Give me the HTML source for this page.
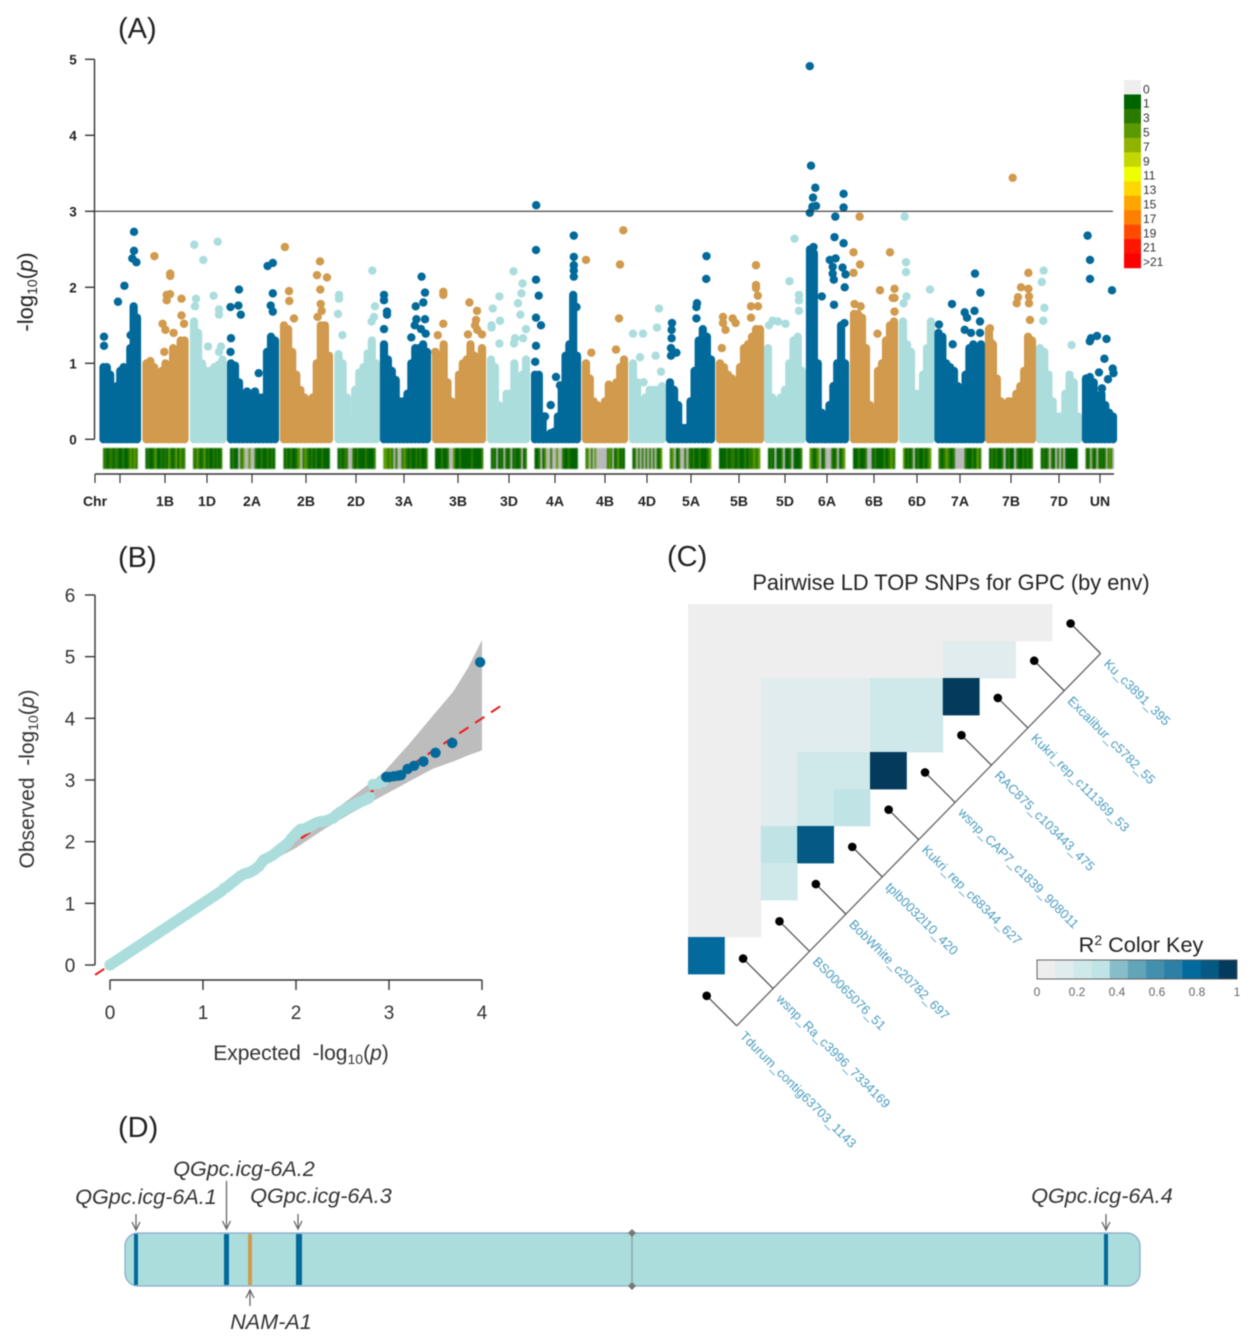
<!DOCTYPE html>
<html lang="en">
<head>
<meta charset="utf-8">
<title>GWAS of grain protein content</title>
<style>
html,body{margin:0;padding:0;background:#fff;}
svg{display:block;font-family:"Liberation Sans",Arial,sans-serif;filter:blur(.45px);}
</style>
</head>
<body>
<svg id="fig" xmlns="http://www.w3.org/2000/svg" width="1255" height="1344" viewBox="0 0 1255 1344">
  <rect width="1255" height="1344" fill="#fff"/>
  <g id="panelA">
    <g id="aCols"></g>
    <g id="aHits"></g>
    <g id="aDensity" style="filter:blur(.5px)"></g>
    <g id="aAxes"></g>
    <g id="aLegend"></g>
  </g>
  <g id="panelB"></g>
  <g id="panelC"></g>
  <g id="panelD"></g>

  <text x="118" y="38" font-size="29" fill="#222">(A)</text>
  <text x="118" y="567" font-size="29" fill="#222">(B)</text>
  <text x="667" y="566" font-size="29" fill="#222">(C)</text>
  <text x="118" y="1137" font-size="29" fill="#222">(D)</text>

  <text transform="translate(33,292) rotate(-90)" text-anchor="middle" font-size="22" fill="#222">-log<tspan dy="4" font-size="14">10</tspan><tspan dy="-4">(</tspan><tspan font-style="italic">p</tspan>)</text>
  <text transform="translate(34,779) rotate(-90)" text-anchor="middle" font-size="21" fill="#333" xml:space="preserve">Observed  -log<tspan dy="4" font-size="14">10</tspan><tspan dy="-4">(</tspan><tspan font-style="italic">p</tspan>)</text>
  <text x="301" y="1060" text-anchor="middle" font-size="21" fill="#333" xml:space="preserve">Expected  -log<tspan dy="4" font-size="14">10</tspan><tspan dy="-4">(</tspan><tspan font-style="italic">p</tspan>)</text>
  <text x="951" y="590" text-anchor="middle" font-size="21.8" fill="#222">Pairwise LD TOP SNPs for GPC (by env)</text>
  <text x="1141" y="952" text-anchor="middle" font-size="21.7" fill="#222">R<tspan dy="-7" font-size="14">2</tspan><tspan dy="7"> Color Key</tspan></text>

  <text x="146" y="1204" text-anchor="middle" font-size="21.6" font-style="italic" fill="#333">QGpc.icg-6A.1</text>
  <text x="244" y="1176" text-anchor="middle" font-size="21.6" font-style="italic" fill="#333">QGpc.icg-6A.2</text>
  <text x="321" y="1203" text-anchor="middle" font-size="21.6" font-style="italic" fill="#333">QGpc.icg-6A.3</text>
  <text x="1102" y="1203" text-anchor="middle" font-size="21.6" font-style="italic" fill="#333">QGpc.icg-6A.4</text>
  <text x="271" y="1329" text-anchor="middle" font-size="21.6" font-style="italic" fill="#333">NAM-A1</text>
</svg>

<script>
/* ---------- Panel A data ---------- */
const chromosomes = ['1A','1B','1D','2A','2B','2D','3A','3B','3D','4A','4B','4D','5A','5B','5D','6A','6B','6D','7A','7B','7D','UN'];
const chromStartMb = [85,515,990,1360,1890,2435,2890,3410,3960,4400,4910,5380,5750,6250,6730,7150,7590,8080,8435,8940,9450,9910];
const chromEndMb = [420,895,1275,1800,2340,2810,3320,3870,4310,4820,5290,5670,6160,6650,7070,7500,7990,8360,8860,9370,9830,10180];
const seriesColors = ['#026a9b','#d19a4d','#abdddd'];
const thresholdValue = 3;
const manhattanYTicks = [0,1,2,3,4,5];
const manhattanXTickMb = [0,250,700,1120,1570,2110,2610,3090,3630,4140,4600,5100,5520,5960,6440,6900,7320,7790,8220,8650,9160,9640,10050];
const manhattanXTickLabels = ['Chr','','1B','1D','2A','2B','2D','3A','3B','3D','4A','4B','4D','5A','5B','5D','6A','6B','6D','7A','7B','7D','UN'];

/* highest -log10(p) of the solid SNP stack in successive windows of each chromosome */
const stackTops = [
 [.95,.95,.85,.6,.7,.9,.95,.68,1.2,1.75,1.6],
 [1.0,1.03,.95,.85,.9,1.0,.95,1.2,1.1,1.3,1.3],
 [1.55,1.4,1.0,.9,.9,.95,.98,1.05],
 [1.0,.97,.75,.45,.63,.6,.63,.55,.55,1.15,1.35,1.3],
 [1.5,1.45,1.15,.85,.65,.55,.5,.55,1.0,1.5,1.5,1.1],
 [1.12,1.0,.55,.2,.65,.88,.95,1.13,1.3,1.0],
 [1.25,1.05,.9,.78,.5,.5,.6,1.0,1.2,1.2,1.25,1.15],
 [1.12,1.1,1.25,.75,.5,.2,.85,1.0,1.05,1.25,1.1,1.0,1.2],
 [1.05,.95,.45,.35,.6,.6,1.0,.65,.85,1.05],
 [.85,.85,.3,.05,.05,.1,.3,.7,1.1,1.25,1.9,1.1],
 [1.0,.8,.5,.45,.4,.5,.72,.6,.75,.95,1.05],
 [1.0,.75,.5,.55,.65,.65,.65,.7],
 [.75,.65,.45,.15,.15,.5,.9,1.3,1.45,1.35,1.05],
 [1.0,.95,.85,.8,.75,.95,1.2,1.25,1.35,1.45,1.45],
 [1.2,.55,.5,.55,.65,1.0,1.3,1.35,.9],
 [2.5,2.45,1.0,.35,.25,.45,.7,1.0,1.5,1.0],
 [1.65,1.65,1.6,1.2,.45,.25,.9,1.0,1.3,1.5,1.55],
 [1.55,1.25,1.15,.6,.6,.85,1.2,1.55],
 [1.4,1.35,1.0,.95,.9,.7,.15,.85,1.2,1.25,1.2,1.25],
 [1.45,1.25,.8,.5,.45,.5,.5,.6,.7,.9,1.35,1.3],
 [1.2,1.15,.85,.5,.3,.3,.6,.85,.75,.3],
 [.8,.82,.75,.55,.6,.45,.35,.3]
];

/* individually readable SNPs: [cumulative position in Mb, -log10(p)] */
const separatedSnps = [
 [[90,1.23],[90,1.35],[230,1.81],[294,2.02],[390,2.73],[390,2.48],[373,2.38],[414,2.33],[356,1.37]],
 [[594,2.41],[752,2.18],[752,2.15],[717,1.9],[750,1.91],[717,1.83],[865,1.85],[865,1.63],[676,1.52],[704,1.44],[786,1.4],[890,1.52],[693,1.15]],
 [[993,2.56],[1083,2.36],[1227,2.6],[1186,1.89],[1010,1.85],[1000,1.75],[1240,1.71],[1240,1.64],[1130,1.22],[1260,1.22],[1240,1.15]],
 [[1440,1.97],[1355,1.74],[1434,1.76],[1458,1.64],[1360,1.33],[1355,1.15],[1726,2.28],[1778,2.32],[1778,1.92],[1757,1.76],[1778,1.68],[1637,.87]],
 [[1899,2.53],[1940,1.95],[1943,1.82],[1990,1.59],[2250,2.34],[2220,2.16],[2320,2.13],[2253,1.97],[2257,1.78],[2267,1.69],[2226,1.61]],
 [[2440,1.9],[2440,1.85],[2430,1.65],[2474,1.37],[2773,2.22],[2800,1.75],[2790,1.61],[2766,1.55]],
 [[2890,1.9],[2890,1.83],[2920,1.68],[2920,1.64],[2890,1.45],[3266,2.14],[3300,1.93],[3283,1.8],[3207,1.75],[3214,1.58],[3300,1.58],[3163,1.34],[3307,1.39],[3197,1.5],[3260,1.45]],
 [[3483,1.94],[3483,1.9],[3483,1.52],[3428,1.37],[3744,1.8],[3820,1.69],[3810,1.57],[3800,1.5],[3823,1.44],[3870,1.38],[3730,1.38],[3403,1.15]],
 [[3978,1.72],[4044,1.88],[3965,1.5],[3965,1.47],[4050,1.56],[4044,1.26],[4185,2.21],[4275,2.05],[4264,1.92],[4230,1.79],[4254,1.64],[4310,1.45],[4200,1.33],[4280,1.33],[4190,1.26]],
 [[4412,3.08],[4410,2.49],[4410,2.1],[4437,1.89],[4410,1.6],[4460,1.5],[4410,1.23],[4402,1.02],[4788,2.68],[4788,2.4],[4788,2.29],[4788,2.22],[4788,2.14],[4815,1.74],[4610,.82],[4650,.71],[4557,.45],[4557,.08],[4500,.3]],
 [[4910,2.36],[4963,1.14],[5283,2.75],[5250,2.3],[5240,1.59],[5210,1.18]],
 [[5380,1.39],[5480,1.39],[5640,1.72],[5620,1.47],[5450,1.08],[5606,1.1],[5660,.89],[5486,.75]],
 [[5770,1.53],[5766,1.44],[5766,1.33],[5760,1.2],[5814,1.14],[5760,1.1],[6115,2.41],[6112,2.11],[6020,1.79],[6014,1.74],[6014,1.59]],
 [[6280,1.61],[6280,1.53],[6305,1.44],[6377,1.59],[6406,1.53],[6610,2.29],[6610,2.03],[6610,1.99],[6628,1.89],[6560,1.75],[6630,1.75],[6560,1.6],[6268,1.2]],
 [[6995,2.64],[6945,2.08],[7040,1.9],[7040,1.83],[7040,1.69],[6740,1.5],[6777,1.56],[6830,1.55],[6905,1.52]],
 [[7148,4.91],[7160,3.6],[7203,3.31],[7180,3.18],[7174,3.06],[7210,3.07],[7148,2.98],[7486,3.23],[7486,3.05],[7403,2.93],[7395,2.66],[7486,2.58],[7185,2.53],[7160,2.49],[7348,2.36],[7406,2.38],[7377,2.27],[7377,2.18],[7388,2.1],[7475,2.26],[7505,2.17],[7497,2.0],[7268,1.88],[7390,1.77],[7494,1.53]],
 [[7646,2.93],[7585,2.46],[7650,2.3],[7585,2.19],[7950,2.46],[7850,1.96],[7995,1.98],[7977,1.86],[7995,1.86],[7595,1.78],[7657,1.75],[7995,1.68],[7825,1.39]],
 [[8097,2.93],[8110,2.33],[8110,2.2],[8115,1.88],[8086,1.79],[8350,1.97]],
 [[8570,1.78],[8800,2.18],[8854,1.93],[8440,1.51],[8577,1.25],[8697,1.67],[8795,1.69],[8720,1.6],[8850,1.55],[8697,1.44],[8760,1.4],[8850,1.4]],
 [[9177,3.44],[9334,2.19],[9260,2.0],[9334,1.98],[9230,1.87],[9340,1.88],[9217,1.79],[9340,1.79],[9350,1.57],[8950,1.46],[8950,1.29]],
 [[9486,2.22],[9468,2.07],[9494,1.73],[9483,1.56],[9766,1.24]],
 [[9926,2.68],[9950,2.36],[9950,2.11],[10170,1.96],[9960,1.33],[10020,1.36],[10115,1.32],[9948,1.29],[10094,1.06],[10177,.93],[10185,.87],[10040,.88],[10130,.79],[10070,.67]]
];

/* SNP density track */
const densityStartMb = [80,504,980,1350,1885,2425,2883,3400,3958,4395,4905,5374,5748,6240,6730,7145,7580,8080,8435,8940,9457,9905];
const densityEndMb = [425,900,1270,1800,2346,2804,3324,3880,4316,4826,5297,5670,6160,6650,7070,7500,8000,8360,8860,9377,9825,10188];
const densityCounts = [
 [3,3,1,3,3,1,3,3,1,1,3,1,1,3,5,3,5,3],
 [1,3,1,1,3,5,1,1,3,1,3,1,5,3,1,3,5,1,5,3,3],
 [3,3,5,3,1,3,5,1,3,1,1,3,1,3,1,3],
 [1,3,1,1,0,3,5,0,0,5,0,0,3,1,1,3,1,1,3,1,3,1],
 [1,3,1,3,1,1,3,5,0,3,5,3,1,3,1,3,1,1,3,1,1,1],
 [1,3,1,3,3,0,0,3,1,3,1,1,1,3,1,1,1,3],
 [5,5,3,5,3,0,3,0,0,3,5,3,1,3,1,1,3,1,3,1,1,3],
 [1,1,1,3,1,1,3,0,0,5,1,1,3,1,1,1,1,1,3,1,1,1,1,3],
 [1,3,1,0,1,3,1,0,3,1,3,0,1,3,1,1,3,0,1,3],
 [1,1,3,0,1,5,0,0,3,0,0,5,0,0,3,1,1,3,1,1,1,1],
 [3,5,0,3,0,5,0,0,0,0,0,0,3,5,3,0,1,3,5,1,3,1],
 [1,3,0,3,0,3,0,3,0,3,0,3,0,3,1,5],
 [3,5,0,1,3,0,0,3,0,3,1,3,1,1,3,1,1,1,3,5],
 [1,1,1,3,1,3,3,1,3,1,1,3,1,3,3,5,3,5],
 [1,3,1,0,1,1,3,0,1,1,3,0,1,1,1,3],
 [5,3,1,3,5,0,1,3,0,0,0,3,1,3,0,1,3,5],
 [1,1,3,1,1,3,0,0,1,3,1,1,1,3,1,3,5,3],
 [5,1,3,1,3,0,1,3,1,1,3,1,3,5],
 [3,1,3,5,3,1,3,0,0,0,0,3,1,1,3,1,5,3],
 [1,3,1,3,1,1,3,0,1,3,1,1,0,3,1,1,3,1,3,1,3],
 [1,3,1,3,0,3,1,0,3,0,3,0,1,1,1,1,1,1],
 [3,1,3,0,3,1,3,0,3,1,3,1,3,0,3,5,3,0]
];

/* density legend */
const legendLabels = ['0','1','3','5','7','9','11','13','15','17','19','21','>21'];
const legendColors = ['#eeeeee','#006400','#2a7a00','#5a9a00','#8fb300','#c2d800','#eeff00','#ffd700','#ffa500','#ff7f00','#ff4a00','#ff1500','#ff0000'];

/* ---------- Panel B data ---------- */
const qqYTicks = [0,1,2,3,4,5,6];
const qqXTicks = [0,1,2,3,4];
const ciExpected = [1.7,2,2.3,2.58,2.94,3.22,3.47,3.69,3.85,4];
const ciUpper = [1.72,2.05,2.38,2.7,3.12,3.59,4.04,4.43,4.82,5.27];
const ciLower = [1.66,1.9,2.2,2.45,2.75,2.98,3.18,3.3,3.4,3.48];
const refLineEnds = [-0.16,4.2];
const qqTealExpected = [0,.025,.05,.075,.1,.125,.15,.175,.2,.225,.25,.275,.3,.325,.35,.375,.4,.425,.45,.475,.5,.525,.55,.575,.6,.625,.65,.675,.7,.725,.75,.775,.8,.825,.85,.875,.9,.925,.95,.975,1,1.025,1.05,1.075,1.1,1.125,1.15,1.175,1.2,1.225,1.25,1.275,1.3,1.325,1.35,1.375,1.4,1.425,1.45,1.475,1.5,1.525,1.55,1.575,1.6,1.625,1.65,1.675,1.7,1.725,1.75,1.775,1.8,1.825,1.85,1.875,1.9,1.925,1.95,1.975,2,2.025,2.05,2.075,2.1,2.125,2.15,2.175,2.2,2.225,2.25,2.275,2.3,2.325,2.35,2.375,2.4,2.425,2.45,2.475,2.5,2.525,2.55,2.575,2.6,2.625,2.65,2.675,2.7,2.725,2.75,2.775,2.79,2.83,2.88,2.93];
const qqTealObserved = [0,.025,.05,.075,.1,.125,.15,.175,.2,.225,.25,.275,.3,.325,.35,.375,.4,.425,.45,.475,.5,.525,.55,.575,.6,.625,.65,.675,.7,.725,.75,.775,.8,.825,.85,.875,.9,.925,.95,.975,1,1.025,1.05,1.075,1.1,1.125,1.15,1.175,1.2,1.24,1.26,1.29,1.32,1.35,1.38,1.41,1.44,1.46,1.48,1.49,1.5,1.52,1.54,1.57,1.6,1.65,1.7,1.72,1.74,1.76,1.78,1.81,1.84,1.87,1.9,1.93,1.96,2.0,2.05,2.09,2.13,2.17,2.2,2.205,2.21,2.23,2.25,2.27,2.29,2.31,2.32,2.33,2.33,2.34,2.35,2.37,2.38,2.42,2.45,2.48,2.5,2.52,2.54,2.56,2.58,2.6,2.62,2.635,2.65,2.665,2.68,2.7,2.72,2.93,2.94,2.97];
const qqTopExpected = [2.97,3.0,3.05,3.1,3.13,3.2,3.27,3.37,3.5,3.68,3.98];
const qqTopObserved = [3.05,3.05,3.06,3.07,3.08,3.18,3.23,3.3,3.44,3.6,4.91];

/* ---------- Panel C data ---------- */
const snpNames = ['Ku_c3891_395','Excalibur_c5782_55','Kukri_rep_c111369_53','RAC875_c103443_475','wsnp_CAP7_c1839_908011','Kukri_rep_c68344_627','tplb0032l10_420','BobWhite_c20782_697','BS00065076_51','wsnp_Ra_c3996_7334169','Tdurum_contig63703_1143'];
const ldRows = [
 [.04,.04,.04,.04,.04,.04,.04,.04,.04,.04],
 [.04,.04,.04,.04,.04,.04,.04,.12,.12],
 [.04,.04,.12,.12,.12,.2,.2,.97],
 [.04,.04,.12,.12,.12,.2,.2],
 [.04,.04,.12,.2,.2,.97],
 [.04,.04,.12,.2,.28],
 [.04,.04,.28,.85],
 [.04,.04,.2],
 [.04,.04],
 [.75]
];
const keyColors = ['#eeeeee','#e1ecee','#cfe9ea','#c0e4e6','#87bdcb','#62a4b8','#438fae','#2c80a6','#036a9e','#045a84','#043b5c'];
const keyTicks = [0,.2,.4,.6,.8,1];

/* ---------- Panel D data ---------- */
const chromMarkerMb = [11,101.5,174,981];
const chromMarkerWidth = [4,5,6,4];
const namMarkerMb = 125;
const centromereMb = 507;
const chromLengthMb = 1015;

/* ---------- helpers ---------- */
const NS = 'http://www.w3.org/2000/svg';
function mk(tag, attrs, parent){
  const e = document.createElementNS(NS, tag);
  for (const k in attrs) e.setAttribute(k, attrs[k]);
  parent.appendChild(e);
  return e;
}
const aX = mb => 95 + mb / 10;
const aY = v => 439.3 - 76 * v;
const qX = v => 110 + 93 * v;
const qY = v => 965 - 61.67 * v;
const dX = mb => 125 + mb;
const $ = id => document.getElementById(id);

/* ---------- Panel A ---------- */
chromosomes.forEach(function(name, c){
  const color = seriesColors[c % 3];
  const tops = stackTops[c];
  tops.forEach(function(top, i){
    const mb = chromStartMb[c] + (chromEndMb[c] - chromStartMb[c]) * i / (tops.length - 1);
    const el = mk('line', {x1:aX(mb), x2:aX(mb), y1:aY(0), y2:aY(top), stroke:color, 'stroke-width':8.2, 'stroke-linecap':'round'}, $('aCols'));
    
    
  });
  separatedSnps[c].forEach(function(s){
    const el = mk('circle', {cx:aX(s[0]), cy:aY(s[1]), r:4.2, fill:color}, $('aHits'));
    
    
  });
  const counts = densityCounts[c];
  const w = (densityEndMb[c] - densityStartMb[c]) / counts.length;
  counts.forEach(function(n, i){
    const fill = n === 0 ? '#b9b9b9' : legendColors[1 + Math.floor((n - 1) / 2)];
    const el = mk('rect', {x:aX(densityStartMb[c] + i * w), y:448, width:w / 10 + .3, height:21, fill:fill}, $('aDensity'));
    
    
  });
});

const threshold = mk('line', {x1:94, x2:1113, y1:aY(thresholdValue), y2:aY(thresholdValue), stroke:'#333', 'stroke-width':1.2}, $('aAxes'));



const aYLine = mk('line', {x1:94.5, x2:94.5, y1:aY(5), y2:aY(0), stroke:'#333', 'stroke-width':1.4}, $('aAxes'));


manhattanYTicks.forEach(function(t){
  const tick = mk('line', {x1:85, x2:94.5, y1:aY(t), y2:aY(t), stroke:'#333', 'stroke-width':1.4}, $('aAxes'));
  
  
  const lab = mk('text', {x:73, y:aY(t) + 5, 'text-anchor':'middle', 'font-size':13.5, 'font-weight':'bold', fill:'#222'}, $('aAxes'));
  lab.textContent = t;
  
  
});

const aXLine = mk('line', {x1:aX(0), x2:1114, y1:474, y2:474, stroke:'#333', 'stroke-width':1.4}, $('aAxes'));


manhattanXTickMb.forEach(function(mb, i){
  const tick = mk('line', {x1:aX(mb), x2:aX(mb), y1:474, y2:483, stroke:'#333', 'stroke-width':1.2}, $('aAxes'));
  
  
  const lab = mk('text', {x:aX(mb), y:506, 'text-anchor':'middle', 'font-size':14, 'font-weight':'bold', fill:'#222'}, $('aAxes'));
  lab.textContent = manhattanXTickLabels[i];
  
  
});

legendLabels.forEach(function(label, i){
  const cell = mk('rect', {x:1124, y:80 + i * 14.46, width:17, height:14.7, fill:legendColors[i]}, $('aLegend'));
  
  
  const lab = mk('text', {x:1143, y:93.3 + i * 14.4, 'font-size':12, fill:'#333'}, $('aLegend'));
  lab.textContent = label;
  
  
});

/* ---------- Panel B ---------- */
const bandTop = ciExpected.map((x,i) => qX(x) + ',' + qY(ciUpper[i]));
const bandBottom = ciExpected.map((x,i) => qX(x) + ',' + qY(ciLower[i])).reverse();
const band = mk('polygon', {points:bandTop.concat(bandBottom).join(' '), fill:'#bdbdbd'}, $('panelB'));



const refLine = mk('line', {x1:qX(refLineEnds[0]), y1:qY(refLineEnds[0]), x2:qX(refLineEnds[1]), y2:qY(refLineEnds[1]), stroke:'#f01818', 'stroke-width':2, 'stroke-dasharray':'11 8'}, $('panelB'));



qqTealExpected.forEach(function(x, i){
  const pt = mk('circle', {cx:qX(x), cy:qY(qqTealObserved[i]), r:5.6, fill:'#abdddd'}, $('panelB'));
  
  
});
qqTopExpected.forEach(function(x, i){
  const pt = mk('circle', {cx:qX(x), cy:qY(qqTopObserved[i]), r:5.2, fill:'#026a9b'}, $('panelB'));
  
  
});

const bY = mk('line', {x1:95, x2:95, y1:qY(6), y2:qY(0), stroke:'#333', 'stroke-width':1.4}, $('panelB'));


qqYTicks.forEach(function(t){
  const tick = mk('line', {x1:85, x2:95, y1:qY(t), y2:qY(t), stroke:'#333', 'stroke-width':1.4}, $('panelB'));
  
  
  const lab = mk('text', {x:70, y:qY(t) + 7, 'text-anchor':'middle', 'font-size':19, fill:'#333'}, $('panelB'));
  lab.textContent = t;
  
  
});
const bX = mk('line', {x1:qX(0), x2:qX(4), y1:980, y2:980, stroke:'#333', 'stroke-width':1.4}, $('panelB'));


qqXTicks.forEach(function(t){
  const tick = mk('line', {x1:qX(t), x2:qX(t), y1:980, y2:990, stroke:'#333', 'stroke-width':1.4}, $('panelB'));
  
  
  const lab = mk('text', {x:qX(t), y:1019, 'text-anchor':'middle', 'font-size':19, fill:'#333'}, $('panelB'));
  lab.textContent = t;
  
  
});

/* ---------- Panel C ---------- */
const ldX = c => 688 + 36.4 * c;
const ldY = r => 604 + 37 * r;
const ldColor = v => keyColors[Math.min(keyColors.length - 1, Math.floor(v * keyColors.length))];
ldRows.forEach(function(row, r){
  row.forEach(function(v, c){
    const cell = mk('rect', {x:ldX(c), y:ldY(r), width:36.8, height:37.4, fill:ldColor(v)}, $('panelC'));
    
    
  });
});
const spine = mk('line', {x1:1100.6, y1:653.5, x2:736.7, y2:1025.8, stroke:'#666', 'stroke-width':1.3}, $('panelC'));


snpNames.forEach(function(name, i){
  const frac = i / (snpNames.length - 1);
  const ex = 1100.6 - frac * 363.9, ey = 653.5 + frac * 372.3;
  const dx = ex - 30, dy = ey - 30;
  const stem = mk('line', {x1:dx, y1:dy, x2:ex, y2:ey, stroke:'#555', 'stroke-width':1.3}, $('panelC'));
  
  
  const dot = mk('circle', {cx:dx, cy:dy, r:4.3, fill:'#000'}, $('panelC'));
  
  
  const tx = ex + 2.5, ty = ey + 11;
  const lab = mk('text', {transform:'translate(' + tx + ',' + ty + ') rotate(45)', 'font-size':13, fill:'#4a9cc0'}, $('panelC'));
  lab.textContent = name;
  
  
});
keyColors.forEach(function(col, i){
  const seg = mk('rect', {x:1037 + i * 200 / keyColors.length, y:960, width:200 / keyColors.length + .3, height:19, fill:col}, $('panelC'));
  
  
});
const keyBox = mk('rect', {x:1037, y:960, width:200, height:19, fill:'none', stroke:'#555', 'stroke-width':.9}, $('panelC'));


keyTicks.forEach(function(t){
  const lab = mk('text', {x:1037 + 200 * t, y:996, 'text-anchor':'middle', 'font-size':12, fill:'#666'}, $('panelC'));
  lab.textContent = t;
  
  
});

/* ---------- Panel D ---------- */
const body = mk('rect', {x:125, y:1233, width:chromLengthMb, height:53, rx:13, ry:13, fill:'#abdddd', stroke:'#8aa9c9', 'stroke-width':1.2}, $('panelD'));


chromMarkerMb.forEach(function(mb, i){
  const qtl = mk('rect', {x:dX(mb) - chromMarkerWidth[i] / 2, y:1234, width:chromMarkerWidth[i], height:51, fill:'#026a9b'}, $('panelD'));
  
  
});
const nam = mk('rect', {x:dX(namMarkerMb) - 2, y:1234, width:4, height:51, fill:'#d19a4d'}, $('panelD'));


const cen = mk('line', {x1:dX(centromereMb), x2:dX(centromereMb), y1:1233, y2:1286, stroke:'#8a9a9a', 'stroke-width':1.2}, $('panelD'));


[1233,1286].forEach(function(yy){
  const cx = dX(centromereMb);
  const d = mk('polygon', {points:[cx-4,yy,cx,yy-4,cx+4,yy,cx,yy+4].join(' '), fill:'#777'}, $('panelD'));
  
  
});
function arrow(x, y1, y2){
  const dir = y2 > y1 ? -1 : 1;
  const g = mk('path', {d:'M' + x + ' ' + y1 + 'L' + x + ' ' + y2 + 'M' + (x-4) + ' ' + (y2+dir*8) + 'L' + x + ' ' + y2 + 'L' + (x+4) + ' ' + (y2+dir*8), fill:'none', stroke:'#666', 'stroke-width':1.3}, $('panelD'));
  return g;
}
const arrow1 = arrow(dX(chromMarkerMb[0]), 1214, 1230);


const arrow2 = arrow(dX(chromMarkerMb[1]), 1181, 1229);


const arrow3 = arrow(dX(chromMarkerMb[2]) - 1, 1214, 1229);


const arrow4 = arrow(dX(chromMarkerMb[3]), 1214, 1230);


const arrowNam = arrow(dX(namMarkerMb), 1306, 1290);


</script>
</body>
</html>
